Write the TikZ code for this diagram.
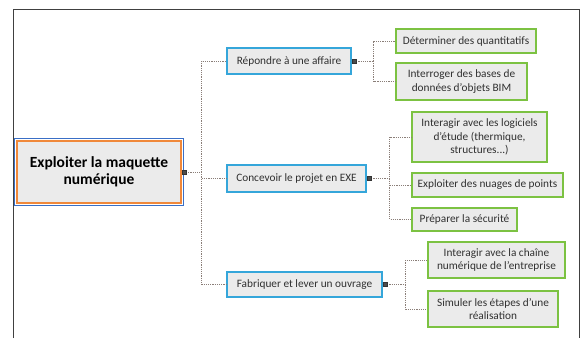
\documentclass[tikz,border=0pt]{standalone}
\usepackage{fontspec}
\setmainfont{Carlito}
\usetikzlibrary{positioning}
\definecolor{rootblue}{HTML}{3A6FC6}
\definecolor{rootorange}{HTML}{F0883A}
\definecolor{topicblue}{HTML}{35A6DA}
\definecolor{subgreen}{HTML}{7CC242}
\definecolor{boxfill}{HTML}{EBEBEB}
\definecolor{linkgray}{HTML}{8A7E78}
\definecolor{txtgray}{HTML}{303030}

\begin{document}
\begin{tikzpicture}[
  x=1pt, y=-1pt,
  root/.style={rectangle,draw=rootorange,fill=boxfill,line width=1.3pt,align=center,
    minimum width=164pt,minimum height=62pt,inner sep=0pt,text=black,
    font=\fontsize{15.5}{17.5}\selectfont\bfseries},
  topic/.style={rectangle,draw=topicblue,fill=boxfill,line width=1.5pt,align=center,
    inner sep=0pt,text=txtgray,font=\fontsize{11.3}{13.5}\selectfont},
  sub/.style={rectangle,draw=subgreen,fill=boxfill,line width=1.5pt,align=center,
    inner sep=0pt,text=txtgray,font=\fontsize{11.3}{13.5}\selectfont},
  knob/.style={rectangle,fill=black!70,draw=black!80,minimum size=4pt,inner sep=0pt,anchor=west},
  link/.style={linkgray,line width=0.8pt,dash pattern=on 1.2pt off 1pt}
]
\useasboundingbox (0,0) rectangle (582,338);
% frame
\draw[black!75,line width=0.9pt] (13,338) -- (13,9) -- (579,9) -- (579,338);

% root
\node[root] (root) at (99,172) {Exploiter la maquette\\numérique};
\draw[rootblue,line width=1.3pt] ([shift={(-2,-2)}]root.north west) rectangle ([shift={(2,2)}]root.south east);

% first level
\node[topic,minimum width=124pt,minimum height=26pt] (rep) at (289,61) {Répondre à une affaire};
\node[topic,minimum width=139pt,minimum height=27pt] (conc) at (296.5,178.5) {Concevoir le projet en EXE};
\node[topic,minimum width=155pt,minimum height=25pt] (fab) at (304.5,284.5) {Fabriquer et lever un ouvrage};

% second level
\node[sub,minimum width=140pt,minimum height=24pt] (det) at (466,41) {Déterminer des quantitatifs};
\node[sub,minimum width=131pt,minimum height=37pt] (interr) at (461.5,81.5) {Interroger des bases de\\données d'objets BIM};
\node[sub,minimum width=135pt,minimum height=50pt] (logi) at (479.5,137) {Interagir avec les logiciels\\d'étude (thermique,\\structures...)};
\node[sub,minimum width=151pt,minimum height=24pt] (nuag) at (487.5,185) {Exploiter des nuages de points};
\node[sub,minimum width=105pt,minimum height=23pt] (prep) at (464.5,219.5) {Préparer la sécurité};
\node[sub,minimum width=137pt,minimum height=36pt] (chaine) at (496.5,260) {Interagir avec la chaîne\\numérique de l'entreprise};
\node[sub,minimum width=130pt,minimum height=36pt] (simul) at (493,309) {Simuler les étapes d'une\\réalisation};

% connectors
\draw[link] (root.east) -- ++(20,0) coordinate (j0) |- (rep.west);
\draw[link] (j0) |- (conc.west);
\draw[link] (j0) |- (fab.west);

\draw[link] (rep.east) -- ++(22,0) coordinate (j1) |- (det.west);
\draw[link] (j1) |- (interr.west);

\draw[link] (conc.east) -- ++(23,0) coordinate (j2) |- (logi.west);
\draw[link] (j2) |- (nuag.west);
\draw[link] (j2) |- (prep.west);

\draw[link] (fab.east) -- ++(23,0) coordinate (j3) |- (chaine.west);
\draw[link] (j3) |- (simul.west);

\node[knob] (k0) at ([xshift=0.5pt]root.east) {};
\node[knob] (k1) at ([xshift=0.5pt]rep.east) {};
\node[knob] (k2) at ([xshift=0.5pt]conc.east) {};
\node[knob] (k3) at ([xshift=0.5pt]fab.east) {};
\end{tikzpicture}
\end{document}
